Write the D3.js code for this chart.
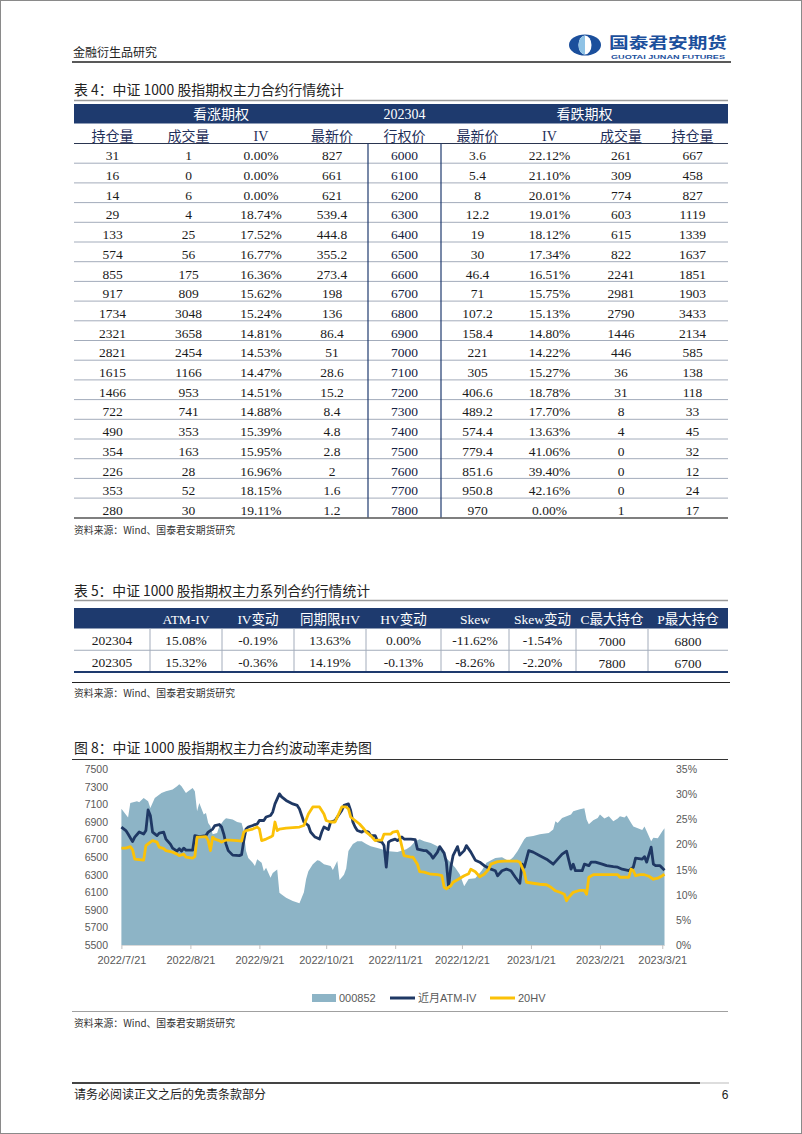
<!DOCTYPE html>
<html><head><meta charset="utf-8">
<script src="https://cdn.jsdelivr.net/npm/d3@7"></script>
<style>
html,body{margin:0;padding:0;background:#fff;}
svg{display:block;}
</style></head><body>
<svg id="page" width="802" height="1134"></svg>
<script>
// ---------------- Table 4 data ----------------
const t4Group = ["看涨期权", "202304", "看跌期权"];
const t4Headers = ["持仓量","成交量","IV","最新价","行权价","最新价","IV","成交量","持仓量"];
const callOI    = [31,16,14,29,133,574,855,917,1734,2321,2821,1615,1466,722,490,354,226,353,280];
const callVol   = [1,0,6,4,25,56,175,809,3048,3658,2454,1166,953,741,353,163,28,52,30];
const callIV    = [0.00,0.00,0.00,18.74,17.52,16.77,16.36,15.62,15.24,14.81,14.53,14.47,14.51,14.88,15.39,15.95,16.96,18.15,19.11];
const callPrice = [827,661,621,539.4,444.8,355.2,273.4,198,136,86.4,51,28.6,15.2,8.4,4.8,2.8,2,1.6,1.2];
const strikes   = [6000,6100,6200,6300,6400,6500,6600,6700,6800,6900,7000,7100,7200,7300,7400,7500,7600,7700,7800];
const putPrice  = [3.6,5.4,8,12.2,19,30,46.4,71,107.2,158.4,221,305,406.6,489.2,574.4,779.4,851.6,950.8,970];
const putIV     = [22.12,21.10,20.01,19.01,18.12,17.34,16.51,15.75,15.13,14.80,14.22,15.27,18.78,17.70,13.63,41.06,39.40,42.16,0.00];
const putVol    = [261,309,774,603,615,822,2241,2981,2790,1446,446,36,31,8,4,0,0,0,1];
const putOI     = [667,458,827,1119,1339,1637,1851,1903,3433,2134,585,138,118,33,45,32,12,24,17];

// ---------------- Table 5 data ----------------
const t5Headers = ["","ATM-IV","IV变动","同期限HV","HV变动","Skew","Skew变动","C最大持仓","P最大持仓"];
const t5Series  = ["202304","202305"];
const t5AtmIV   = [15.08, 15.32];
const t5IVChg   = [-0.19, -0.36];
const t5HV      = [13.63, 14.19];
const t5HVChg   = [0.00, -0.13];
const t5Skew    = [-11.62, -8.26];
const t5SkewChg = [-1.54, -2.20];
const t5CMax    = [7000, 7800];
const t5PMax    = [6800, 6700];

// ---------------- Chart data ----------------
const seriesNames = ["000852", "近月ATM-IV", "20HV"];
const leftTicks  = [5500,5700,5900,6100,6300,6500,6700,6900,7100,7300,7500];
const rightTicks = [0,5,10,15,20,25,30,35];
const xTickDates = ["2022/7/21","2022/8/21","2022/9/21","2022/10/21","2022/11/21","2022/12/21","2023/1/21","2023/2/21","2023/3/21"];
const xDomain = ["2022/7/21","2023/3/22"];

const indexData = [["2022/7/21",7050],["2022/7/24",6950],["2022/7/25",7117],["2022/7/28",7136],["2022/7/29",7125],["2022/7/31",7174],["2022/8/2",7136],["2022/8/3",7060],["2022/8/5",7174],["2022/8/8",7230],["2022/8/10",7250],["2022/8/13",7270],["2022/8/15",7307],["2022/8/16",7330],["2022/8/17",7307],["2022/8/19",7230],["2022/8/20",7250],["2022/8/22",7288],["2022/8/23",7250],["2022/8/24",7023],["2022/8/25",7117],["2022/8/27",6985],["2022/8/28",7003],["2022/8/29",6890],["2022/8/30",6852],["2022/8/31",6760],["2022/9/2",6776],["2022/9/3",6852],["2022/9/5",6920],["2022/9/6",6943],["2022/9/9",6928],["2022/9/11",6900],["2022/9/13",6890],["2022/9/14",6795],["2022/9/15",6570],["2022/9/16",6490],["2022/9/18",6435],["2022/9/19",6400],["2022/9/20",6475],["2022/9/22",6435],["2022/9/23",6340],["2022/9/24",6380],["2022/9/26",6265],["2022/9/27",6320],["2022/9/29",6360],["2022/9/30",6095],["2022/10/1",6075],["2022/10/3",6037],["2022/10/6",6000],["2022/10/9",5975],["2022/10/10",6037],["2022/10/11",6100],["2022/10/12",6250],["2022/10/13",6340],["2022/10/15",6420],["2022/10/17",6465],["2022/10/18",6460],["2022/10/20",6420],["2022/10/23",6400],["2022/10/24",6355],["2022/10/26",6455],["2022/10/27",6240],["2022/10/29",6300],["2022/10/30",6370],["2022/10/31",6570],["2022/11/2",6650],["2022/11/4",6680],["2022/11/6",6680],["2022/11/8",6650],["2022/11/10",6625],["2022/11/13",6605],["2022/11/15",6590],["2022/11/17",6570],["2022/11/22",6560],["2022/11/26",6590],["2022/11/28",6625],["2022/11/30",6680],["2022/12/2",6705],["2022/12/4",6680],["2022/12/7",6660],["2022/12/10",6625],["2022/12/12",6570],["2022/12/14",6490],["2022/12/16",6435],["2022/12/18",6380],["2022/12/20",6305],["2022/12/22",6170],["2022/12/24",6250],["2022/12/27",6260],["2022/12/30",6350],["2023/1/1",6435],["2023/1/5",6490],["2023/1/8",6500],["2023/1/11",6455],["2023/1/13",6500],["2023/1/15",6570],["2023/1/18",6705],["2023/1/19",6730],["2023/1/22",6740],["2023/1/25",6760],["2023/1/29",6775],["2023/1/31",6815],["2023/2/1",6910],["2023/2/2",6890],["2023/2/4",6945],["2023/2/8",6985],["2023/2/9",7023],["2023/2/12",7045],["2023/2/14",7056],["2023/2/15",6930],["2023/2/16",6875],["2023/2/18",6920],["2023/2/20",6945],["2023/2/21",6985],["2023/2/23",6940],["2023/2/25",6965],["2023/2/27",6910],["2023/3/1",6940],["2023/3/2",6965],["2023/3/4",6950],["2023/3/5",6975],["2023/3/7",6890],["2023/3/8",6850],["2023/3/10",6830],["2023/3/12",6810],["2023/3/13",6850],["2023/3/14",6795],["2023/3/16",6680],["2023/3/17",6720],["2023/3/19",6715],["2023/3/21",6795],["2023/3/22",6830]];

const ivData = [["2022/7/21",23.5],["2022/7/23",22.8],["2022/7/24",22.1],["2022/7/26",20.6],["2022/7/27",21.5],["2022/7/29",22.5],["2022/7/31",22.1],["2022/8/1",22.8],["2022/8/2",26.9],["2022/8/3",25.8],["2022/8/4",22.5],["2022/8/6",21.8],["2022/8/7",22.3],["2022/8/9",22.5],["2022/8/10",21.1],["2022/8/12",20.1],["2022/8/13",19.3],["2022/8/15",18.7],["2022/8/16",19.2],["2022/8/17",18.7],["2022/8/18",19.3],["2022/8/19",18.9],["2022/8/22",18.9],["2022/8/23",21.8],["2022/8/25",21.6],["2022/8/28",21.8],["2022/8/29",22.5],["2022/8/31",23.1],["2022/9/1",23.8],["2022/9/3",24.0],["2022/9/4",23.5],["2022/9/5",22.1],["2022/9/6",20.1],["2022/9/7",18.8],["2022/9/9",17.9],["2022/9/12",17.8],["2022/9/13",18.0],["2022/9/14",20.8],["2022/9/15",23.1],["2022/9/16",23.5],["2022/9/18",23.8],["2022/9/19",24.0],["2022/9/20",24.1],["2022/9/21",24.8],["2022/9/23",24.8],["2022/9/24",25.5],["2022/9/26",25.8],["2022/9/27",26.5],["2022/9/28",28.1],["2022/9/30",30.1],["2022/10/1",29.5],["2022/10/3",28.8],["2022/10/6",28.1],["2022/10/8",27.8],["2022/10/9",27.1],["2022/10/11",24.5],["2022/10/13",23.8],["2022/10/14",22.5],["2022/10/16",21.5],["2022/10/18",21.1],["2022/10/19",22.5],["2022/10/20",23.5],["2022/10/22",23.0],["2022/10/23",24.5],["2022/10/25",24.8],["2022/10/26",25.5],["2022/10/28",26.8],["2022/10/29",27.8],["2022/10/31",28.1],["2022/11/1",26.8],["2022/11/2",24.5],["2022/11/3",23.5],["2022/11/4",22.8],["2022/11/6",22.5],["2022/11/7",22.8],["2022/11/9",22.5],["2022/11/10",21.8],["2022/11/12",21.8],["2022/11/13",20.8],["2022/11/15",20.5],["2022/11/16",19.8],["2022/11/17",15.5],["2022/11/18",20.5],["2022/11/19",20.8],["2022/11/21",21.1],["2022/11/22",20.8],["2022/11/24",21.5],["2022/11/25",21.1],["2022/11/28",21.1],["2022/11/30",21.0],["2022/12/1",19.1],["2022/12/4",18.8],["2022/12/5",18.8],["2022/12/7",18.0],["2022/12/8",17.3],["2022/12/10",18.5],["2022/12/11",19.6],["2022/12/13",18.3],["2022/12/14",16.5],["2022/12/15",11.5],["2022/12/16",15.5],["2022/12/17",17.8],["2022/12/19",19.6],["2022/12/20",17.9],["2022/12/22",18.8],["2022/12/23",19.8],["2022/12/25",18.5],["2022/12/27",16.9],["2022/12/29",16.5],["2022/12/31",15.8],["2023/1/3",15.1],["2023/1/5",14.8],["2023/1/6",13.8],["2023/1/8",14.8],["2023/1/10",15.1],["2023/1/12",14.8],["2023/1/14",13.5],["2023/1/16",12.3],["2023/1/17",16.1],["2023/1/18",15.5],["2023/1/20",18.8],["2023/1/22",18.5],["2023/1/25",17.8],["2023/1/28",17.1],["2023/1/31",16.1],["2023/2/2",17.1],["2023/2/4",18.1],["2023/2/6",18.7],["2023/2/8",15.1],["2023/2/9",16.1],["2023/2/10",14.8],["2023/2/13",14.8],["2023/2/14",16.1],["2023/2/16",15.8],["2023/2/17",16.5],["2023/2/19",16.5],["2023/2/22",16.1],["2023/2/24",15.8],["2023/2/27",15.6],["2023/3/1",15.5],["2023/3/3",15.1],["2023/3/6",14.8],["2023/3/8",15.5],["2023/3/9",17.3],["2023/3/12",17.1],["2023/3/13",17.6],["2023/3/14",16.5],["2023/3/16",19.5],["2023/3/17",16.1],["2023/3/18",15.8],["2023/3/20",15.8],["2023/3/22",14.9]];

const hvData = [["2022/7/21",19.3],["2022/7/23",19.3],["2022/7/25",19.6],["2022/7/26",19.0],["2022/7/27",17.1],["2022/7/31",16.9],["2022/8/1",19.8],["2022/8/3",20.5],["2022/8/4",20.8],["2022/8/6",20.5],["2022/8/7",19.5],["2022/8/9",19.2],["2022/8/10",18.8],["2022/8/13",18.5],["2022/8/15",18.1],["2022/8/16",17.8],["2022/8/18",18.1],["2022/8/19",17.5],["2022/8/22",17.3],["2022/8/23",17.6],["2022/8/24",21.5],["2022/8/25",21.5],["2022/8/28",21.6],["2022/8/29",20.8],["2022/8/30",18.8],["2022/8/31",21.5],["2022/9/1",21.1],["2022/9/3",20.8],["2022/9/4",20.5],["2022/9/6",20.9],["2022/9/8",20.9],["2022/9/11",20.8],["2022/9/13",20.7],["2022/9/14",22.5],["2022/9/15",22.8],["2022/9/18",23.1],["2022/9/20",23.5],["2022/9/21",23.1],["2022/9/22",20.8],["2022/9/24",21.1],["2022/9/26",21.5],["2022/9/27",21.8],["2022/9/28",24.5],["2022/9/29",22.8],["2022/9/30",23.1],["2022/10/3",23.3],["2022/10/9",23.5],["2022/10/11",23.8],["2022/10/13",26.1],["2022/10/15",27.5],["2022/10/18",27.5],["2022/10/20",26.1],["2022/10/21",24.8],["2022/10/23",24.5],["2022/10/25",24.5],["2022/10/26",25.5],["2022/10/28",27.5],["2022/10/30",27.5],["2022/10/31",27.1],["2022/11/1",25.5],["2022/11/3",24.8],["2022/11/5",24.1],["2022/11/7",23.1],["2022/11/8",22.5],["2022/11/10",21.8],["2022/11/12",20.8],["2022/11/13",20.9],["2022/11/15",20.9],["2022/11/16",22.1],["2022/11/19",22.1],["2022/11/20",22.5],["2022/11/22",22.7],["2022/11/23",21.5],["2022/11/25",17.8],["2022/11/28",17.5],["2022/11/29",17.5],["2022/12/1",16.1],["2022/12/2",14.6],["2022/12/4",14.5],["2022/12/7",14.1],["2022/12/10",14.0],["2022/12/12",13.8],["2022/12/13",11.5],["2022/12/14",11.2],["2022/12/16",11.8],["2022/12/17",12.5],["2022/12/19",13.0],["2022/12/22",13.8],["2022/12/24",14.2],["2022/12/25",15.1],["2022/12/27",14.6],["2022/12/29",13.6],["2022/12/31",14.1],["2023/1/2",15.1],["2023/1/3",16.1],["2023/1/6",16.6],["2023/1/9",16.7],["2023/1/15",16.7],["2023/1/16",16.5],["2023/1/18",14.5],["2023/1/19",12.5],["2023/1/22",12.3],["2023/1/25",12.1],["2023/1/28",12.0],["2023/1/30",11.5],["2023/2/1",10.8],["2023/2/3",10.5],["2023/2/5",10.1],["2023/2/6",8.8],["2023/2/7",9.5],["2023/2/9",10.5],["2023/2/12",10.9],["2023/2/14",10.9],["2023/2/15",10.1],["2023/2/16",13.5],["2023/2/18",14.0],["2023/3/1",14.0],["2023/3/2",13.5],["2023/3/6",13.5],["2023/3/7",15.1],["2023/3/8",14.8],["2023/3/9",13.8],["2023/3/11",14.0],["2023/3/13",14.0],["2023/3/15",13.7],["2023/3/17",13.1],["2023/3/19",13.3],["2023/3/21",13.8],["2023/3/22",14.1]];

// ---------------- Styles ----------------
const CJK   = '"Noto Sans CJK SC", sans-serif';
const SERIF = '"Liberation Serif", "Noto Sans CJK SC", serif';
const SANS  = '"Liberation Sans", "Noto Sans CJK SC", sans-serif';
const NAVY  = "#1E3A6E";
const AREA  = "#8DB4C6";
const LINE_NAVY = "#1F3864";
const GOLD  = "#FBC107";
const AXIS_TXT = "#595959";

const svg = d3.select("#page");
svg.append("rect").attr("x",0.5).attr("y",0.5).attr("width",801).attr("height",1133)
  .attr("fill","#fff").attr("stroke","#8a8a8a");

function txt(x, y, s, o) {
  o = o || {};
  const t = svg.append("text").attr("x", x).attr("y", y).text(s)
    .attr("font-family", o.font || CJK).attr("font-size", o.size || 12)
    .attr("fill", o.fill || "#222").attr("text-anchor", o.anchor || "start");
  if (o.weight) t.attr("font-weight", o.weight);
  if (o.len) t.attr("textLength", o.len).attr("lengthAdjust", "spacingAndGlyphs");
  return t;
}
function hline(x1, x2, y, color, w) {
  svg.append("line").attr("x1",x1).attr("x2",x2).attr("y1",y).attr("y2",y)
    .attr("stroke",color).attr("stroke-width",w||1);
}
function vline(x, y1, y2, color, w) {
  svg.append("line").attr("x1",x).attr("x2",x).attr("y1",y1).attr("y2",y2)
    .attr("stroke",color).attr("stroke-width",w||1);
}
const fmtPct = v => v.toFixed(2) + "%";

// ---------------- Page header ----------------
txt(73, 57, "金融衍生品研究", {size: 12, fill: "#222", len: 84});
svg.append("ellipse").attr("cx",585).attr("cy",45).attr("rx",16).attr("ry",10.5).attr("fill","#1B4F9C");
svg.append("ellipse").attr("cx",585).attr("cy",45).attr("rx",6.5).attr("ry",9.5).attr("fill","#fff");
svg.append("path").attr("d","M585,35.5 A6.5,9.5 0 0,0 585,54.5 Z").attr("fill","#8FC3E6");
txt(609, 47.5, "国泰君安期货", {size: 15, weight: "bold", fill: "#1B4F9C", len: 118});
txt(611, 58.5, "GUOTAI JUNAN FUTURES", {size: 6, weight: "bold", fill: "#1B4F9C", font: SANS, len: 114});
hline(72, 731, 62, "#222", 1.5);

// ---------------- Table 4 ----------------
txt(74, 95, "表 4：中证 1000 股指期权主力合约行情统计", {size: 14, fill: "#222", len: 270});
hline(74, 728, 100.5, "#9a9a9a", 1.5);

const t4Edges = [74,151,226,296,368,441,514,585,657,728];
const t4Center = t4Edges.slice(0, -1).map((e, i) => (e + t4Edges[i + 1]) / 2);
svg.append("rect").attr("x",74).attr("y",104).attr("width",654).attr("height",19.5).attr("fill",NAVY);
const groupCenters = [(74 + 368) / 2, (368 + 441) / 2, (441 + 728) / 2];
t4Group.forEach((g, i) => txt(groupCenters[i], 118.5, g, {size: 14, fill: "#fff", anchor: "middle", font: SERIF}));
t4Headers.forEach((h, i) => txt(t4Center[i], 141, h, {size: 14, fill: "#1F2F5A", anchor: "middle", font: SERIF}));
hline(74, 728, 143.5, "#2a3550", 1);

const t4Rows = d3.scaleBand().domain(d3.range(strikes.length)).range([143.5, 517.8]);
const t4Columns = [callOI, callVol, callIV.map(fmtPct), callPrice, strikes, putPrice, putIV.map(fmtPct), putVol, putOI];
d3.range(strikes.length).forEach(r => {
  const top = t4Rows(r);
  t4Columns.forEach((col, c) => {
    txt(t4Center[c], top + 16.8, String(col[r]), {size: 13.5, fill: c === 4 ? "#14213f" : "#1a1a1a", anchor: "middle", font: SERIF});
  });
  if (r < strikes.length - 1) hline(74, 728, top + t4Rows.bandwidth(), "#a3acbb", 1);
});
vline(368, 143.5, 517.8, NAVY, 1.2);
vline(441, 143.5, 517.8, NAVY, 1.2);
hline(74, 728, 518, "#555", 1.6);
txt(74, 534, "资料来源：Wind、国泰君安期货研究", {size: 10, fill: "#333", len: 161});

// ---------------- Table 5 ----------------
txt(74, 596, "表 5：中证 1000 股指期权主力系列合约行情统计", {size: 14, fill: "#222", len: 296});
hline(74, 728, 600.5, "#9a9a9a", 1.5);
const t5Edges = [74,150,222,294,366,441,509,576,648,728];
const t5Center = t5Edges.slice(0, -1).map((e, i) => (e + t5Edges[i + 1]) / 2);
svg.append("rect").attr("x",74).attr("y",608).attr("width",654).attr("height",20.5).attr("fill",NAVY);
t5Headers.forEach((h, i) => { if (h) txt(t5Center[i], 623.5, h, {size: 13.5, fill: "#fff", anchor: "middle", font: SERIF}); });
const t5Rows = d3.scaleBand().domain(t5Series).range([628.5, 672]);
const t5Columns = [t5Series, t5AtmIV.map(fmtPct), t5IVChg.map(fmtPct), t5HV.map(fmtPct), t5HVChg.map(fmtPct),
  t5Skew.map(fmtPct), t5SkewChg.map(fmtPct), t5CMax, t5PMax];
t5Series.forEach((s, r) => {
  const top = t5Rows(s);
  t5Columns.forEach((col, c) => {
    txt(t5Center[c], top + 16.5 + (c >= 7 ? 1 : 0), String(col[r]), {size: 13.5, fill: "#1a1a1a", anchor: "middle", font: SERIF});
  });
});
hline(74, 728, t5Rows(t5Series[1]), "#a3acbb", 1);
t5Edges.slice(1, -1).forEach(e => vline(e, 628.5, 671, "#a3acbb", 1));
hline(74, 728, 672, NAVY, 2);
hline(72, 730, 682.5, "#222", 1);
txt(74, 697, "资料来源：Wind、国泰君安期货研究", {size: 10, fill: "#333", len: 161});

// ---------------- Chart (图 8) ----------------
txt(74, 753, "图 8：中证 1000 股指期权主力合约波动率走势图", {size: 14, fill: "#222", len: 298});
hline(72, 728, 759.5, "#333", 1);

const parseDate = d3.timeParse("%Y/%m/%d");
const x  = d3.scaleTime().domain(xDomain.map(parseDate)).range([121.4, 664.5]);
const yL = d3.scaleLinear().domain([5500, 7500]).range([945, 769.3]);
const yR = d3.scaleLinear().domain([0, 35]).range([945, 769.3]);

const chart = svg.append("g");
chart.append("path").datum(indexData)
  .attr("d", d3.area().x(d => x(parseDate(d[0]))).y0(yL(5500)).y1(d => yL(d[1])))
  .attr("fill", AREA);

// axes
const axL = chart.append("g").attr("transform", "translate(108,0)")
  .call(d3.axisLeft(yL).tickValues(leftTicks).tickSize(0).tickPadding(0).tickFormat(d3.format("d")));
const axR = chart.append("g").attr("transform", "translate(676,0)")
  .call(d3.axisRight(yR).tickValues(rightTicks).tickSize(0).tickPadding(0).tickFormat(d => d + "%"));
const axB = chart.append("g").attr("transform", "translate(0,945)")
  .call(d3.axisBottom(x).tickValues(xTickDates.map(parseDate)).tickSize(4).tickSizeOuter(0).tickPadding(7)
    .tickFormat(d3.timeFormat("%Y/%-m/%-d")));
[axL, axR].forEach(a => a.select(".domain").remove());
[axL, axR, axB].forEach(a => {
  a.selectAll("text").attr("font-family", SANS).attr("font-size", 10.5).attr("fill", AXIS_TXT);
});
axB.selectAll("text").attr("font-size", 11);
axB.select(".domain").attr("stroke", "#d9d9d9");
axB.selectAll(".tick line").attr("stroke", "#bfbfbf");

const lineGen = d3.line().x(d => x(parseDate(d[0]))).y(d => yR(d[1]));
chart.append("path").datum(ivData).attr("d", lineGen).attr("fill", "none")
  .attr("stroke", LINE_NAVY).attr("stroke-width", 2.8).attr("stroke-linejoin", "round");
chart.append("path").datum(hvData).attr("d", lineGen).attr("fill", "none")
  .attr("stroke", GOLD).attr("stroke-width", 2.8).attr("stroke-linejoin", "round");

// legend
const lg = chart.append("g").attr("font-family", SANS).attr("font-size", 11).attr("fill", AXIS_TXT);
lg.append("rect").attr("x", 312).attr("y", 994).attr("width", 24).attr("height", 8).attr("fill", AREA);
lg.append("text").attr("x", 339).attr("y", 1002).text(seriesNames[0]);
lg.append("line").attr("x1", 390).attr("x2", 415).attr("y1", 998).attr("y2", 998).attr("stroke", LINE_NAVY).attr("stroke-width", 3);
lg.append("text").attr("x", 418).attr("y", 1002).text(seriesNames[1]);
lg.append("line").attr("x1", 490).attr("x2", 515).attr("y1", 998).attr("y2", 998).attr("stroke", GOLD).attr("stroke-width", 3);
lg.append("text").attr("x", 518).attr("y", 1002).text(seriesNames[2]);

hline(72, 728, 1011.5, "#a0a0a0", 1.2);
txt(74, 1027, "资料来源：Wind、国泰君安期货研究", {size: 10, fill: "#333", len: 161});

// ---------------- Footer ----------------
hline(72, 700, 1083, "#444", 2);
hline(700, 729, 1083, "#bbb", 1);
txt(74, 1099, "请务必阅读正文之后的免责条款部分", {size: 12, fill: "#222", len: 192});
txt(725, 1099, "6", {size: 12, fill: "#222", anchor: "middle", font: SANS});
</script>
</body></html>
